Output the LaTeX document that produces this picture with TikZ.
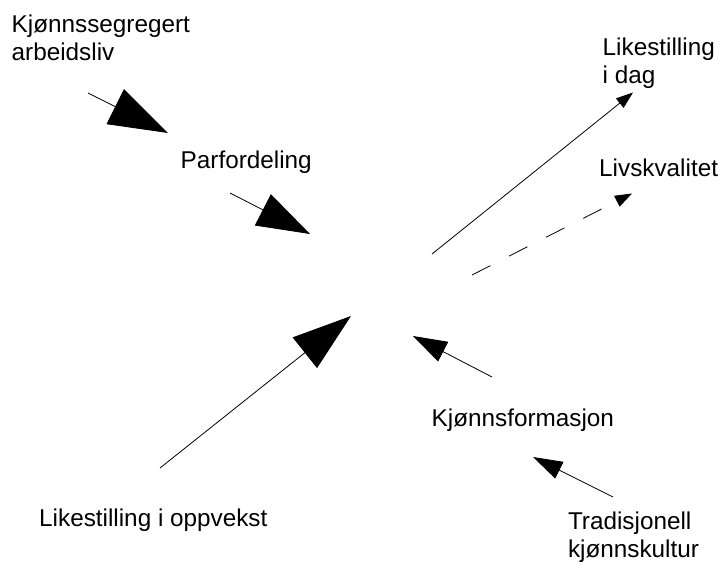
\documentclass[tikz,border=0pt]{standalone}
\usepackage{fontspec}
\setmainfont{Liberation Sans}
\usetikzlibrary{arrows.meta}
\newcommand{\twolines}[2]{\begin{tabular}[t]{@{}l@{}}#1\\#2\end{tabular}}
\begin{document}
\begin{tikzpicture}[x=1pt,y=-1pt,
  lbl/.style={anchor=base west, inner sep=0pt, font=\fontsize{24.3}{28}\selectfont},
  conn/.style={line width=0.8pt, black},
  headbig/.style={conn, -{Triangle[length=59pt,width=39pt]}},
  headlarge/.style={conn, -{Triangle[length=53pt,width=35pt]}},
  headmid/.style={conn, -{Triangle[length=34pt,width=22pt]}},
  headsmall/.style={conn, -{Triangle[length=29.5pt,width=18.5pt]}},
  headtiny/.style={conn, -{Triangle[length=17pt,width=12pt]}},
  dashline/.style={dash pattern=on 20.6pt off 21pt}
]
\useasboundingbox (0,0) rectangle (724,563);
% labels
\node[lbl] (kja) at (11.5,32.7) {\twolines{Kjønnssegregert}{arbeidsliv}};
\node[lbl] (par) at (180.5,168) {Parfordeling};
\node[lbl] (lid) at (602.5,55) {\twolines{Likestilling}{i dag}};
\node[lbl] (liv) at (599,176.7) {Livskvalitet};
\node[lbl] (kjf) at (431.5,426.7) {Kjønnsformasjon};
\node[lbl] (lio) at (39,526.7) {Likestilling i oppvekst};
\node[lbl] (trk) at (567.8,529.3) {\twolines{Tradisjonell}{kjønnskultur}};
% arrow end points
\coordinate (a1s) at (88,93);    \coordinate (a1e) at (168,133);
\coordinate (a2s) at (230,193);  \coordinate (a2e) at (310,234);
\coordinate (a3s) at (432,254);  \coordinate (a3e) at (633,92.5);
\coordinate (a4s) at (472,275);  \coordinate (a4e) at (632,193.5);
\coordinate (a5s) at (160,468);  \coordinate (a5e) at (351,316);
\coordinate (a6s) at (492,377);  \coordinate (a6e) at (413,336);
\coordinate (a7s) at (613,497);  \coordinate (a7e) at (533,457);
% arrows
\draw[headbig] (a1s) -- (a1e);
\draw[headlarge] (a2s) -- (a2e);
\draw[headtiny] (a3s) -- (a3e);
\draw[headtiny, dashline] (a4s) -- (a4e);
\draw[headbig] (a5s) -- (a5e);
\draw[headmid] (a6s) -- (a6e);
\draw[headsmall] (a7s) -- (a7e);
\end{tikzpicture}
\end{document}
